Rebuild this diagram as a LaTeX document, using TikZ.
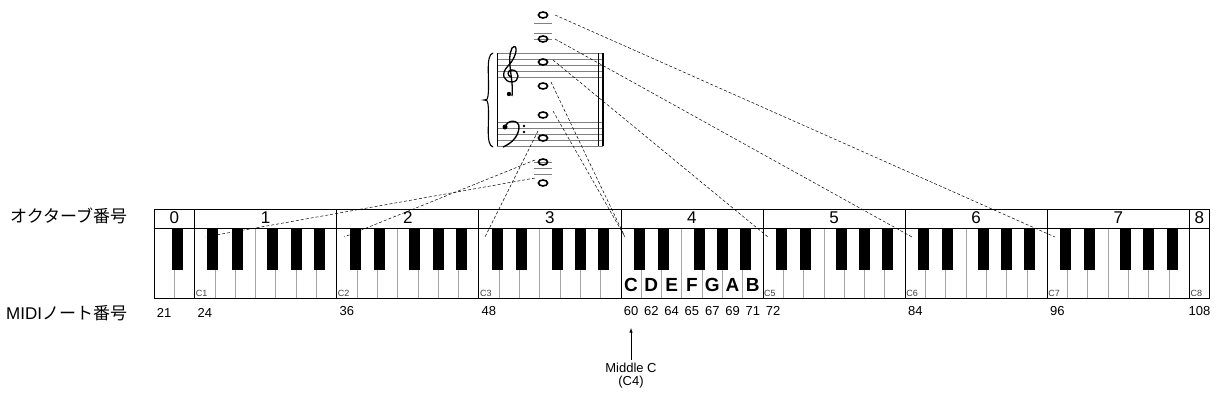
\documentclass[tikz,border=0pt]{standalone}
\usepackage{fontspec}
\setmainfont{Liberation Sans}
\newfontfamily\jp{Noto Sans CJK JP}
\begin{document}
\begin{tikzpicture}[x=1pt,y=-1pt,
  wk/.style={draw=gray!70,line width=0.8pt},
  bk/.style={fill=black},
  dl/.style={densely dashed,line width=0.5pt},
  lbl/.style={font=\fontsize{17}{17}\selectfont},
  num/.style={font=\fontsize{13}{13}\selectfont},
  cl/.style={font=\fontsize{9}{9}\selectfont,anchor=south west,inner sep=1pt},
  note/.style={line width=1.6pt},
  stl/.style={line width=0.6pt,gray}]
\useasboundingbox (0,0) rectangle (1226,413);
\def\w{20.3}
\def\xo{154}
% white key separators
\foreach \i in {1,...,51}{
  \draw[wk] ({\xo+\i*\w},228) -- ({\xo+\i*\w},298);
}
% black keys
\fill[bk] ({\xo+\w+3-5.5},228) rectangle ++(11,42);
\foreach \o in {0,...,6}{
  \pgfmathsetmacro\c{\xo+2*\w+\o*7*\w}
  \foreach \k/\d in {1/-2,2/2,4/-3,5/0,6/3}{
    \fill[bk] ({\c+\k*\w+\d-5.5},228) rectangle ++(11,42);
  }
}
% octave boundaries and header
\draw[line width=1pt] (\xo,209) rectangle ({\xo+52*\w},298);
\draw[line width=1pt] (\xo,228) -- ({\xo+52*\w},228);
\foreach \o in {0,...,7}{
  \draw[line width=0.8pt] ({\xo+2*\w+\o*7*\w},209) -- ({\xo+2*\w+\o*7*\w},298);
}
\node[lbl] (o0) at ({\xo+\w},218) {0};
\foreach \o in {1,...,7}{
  \node[lbl] (o\o) at ({\xo+2*\w+(\o-0.5)*7*\w},218) {\o};
}
\node[lbl] (o8) at ({\xo+51.5*\w},218) {8};
% C labels
\foreach \o in {1,2,3,5,6,7,8}{
  \node[cl,text=black!75] (c\o) at ({\xo+2*\w+(\o-1)*7*\w},298) {C\o};
}
% note letters
\foreach \l [count=\i from 0] in {C,D,E,F,G,A,B}{
  \node[font=\fontsize{19}{19}\selectfont\bfseries] (L\l) at ({\xo+(23.5+\i)*\w},285) {\l};
}
% MIDI numbers
\node[num] (m21) at ({\xo+0.5*\w},313) {21};
\node[num] (m24) at ({\xo+2.5*\w},313) {24};
\node[num] (m36) at ({\xo+9.5*\w},311) {36};
\node[num] (m48) at ({\xo+16.5*\w},311) {48};
\foreach \n [count=\i from 0] in {60,62,64,65,67,69,71,72}{
  \node[num] (mm\n) at ({\xo+(23.5+\i)*\w},311) {\n};
}
\node[num] (m84) at ({\xo+37.5*\w},311) {84};
\node[num] (m96) at ({\xo+44.5*\w},311) {96};
\node[num] (m108) at ({\xo+51.5*\w},311) {108};
% side labels
\node[lbl,anchor=west,inner sep=0] (oct) at (10,216) {\jp オクターブ番号};
\node[lbl,anchor=west,inner sep=0] (midi) at (6,313) {MIDI\jp ノート番号};
% middle C
\node[num,align=center] (mc) at (631,376) {Middle C\\(C4)};
\coordinate (mcA) at (631,328);
\draw[-latex,line width=0.6pt] (mc.north) -- (mcA);
% staff
\foreach \y in {53,59,65,71,77,122,128,134,140,146}{
  \draw[stl] (497,\y) -- (603,\y);
}
\draw[line width=0.6pt] (497,53) -- (497,146);
\draw[line width=0.6pt] (598,53) -- (598,146);
\draw[line width=2.2pt] (603,53) -- (603,146);
% brace
\draw[line width=1.1pt] (493,53) .. controls (485,55) and (490,80) .. (488,96)
  .. controls (487,100) .. (484,100) .. controls (487,100) .. (488,104)
  .. controls (490,120) and (485,145) .. (493,147);
% treble clef (drawn)
\draw[line width=1.3pt] (512,96)
  .. controls (514,80) and (506,60) .. (512,48)
  .. controls (518,42) and (518,56) .. (508,66)
  .. controls (500,74) and (504,82) .. (512,82)
  .. controls (520,82) and (520,70) .. (512,70)
  .. controls (507,70) and (507,76) .. (511,77);
\fill (509,94) circle (2.2);
% bass clef (drawn)
\draw[line width=1.4pt] (505,128)
  .. controls (506,119) and (520,119) .. (519,128)
  .. controls (518,138) and (510,144) .. (503,147);
\fill (505,127) circle (2.5);
\fill (524,126) circle (1.3);
\fill (524,132) circle (1.3);
% ledger lines
\foreach \y in {23,33,39,162,168,174}{
  \draw[stl] (534,\y) -- (552,\y);
}
% notes
\foreach \n/\y in {n1/15,n2/39,n3/62,n4/86,n5/115,n6/138,n7/162,n8/183}{
  \draw[note] (543,\y) ellipse (4.6 and 3);
  \coordinate (\n) at (543,\y);
}
\coordinate (k8) at (1055,237);
\coordinate (k7) at (912,237);
\coordinate (k6) at (768,237);
\coordinate (k5) at (625,237);
\coordinate (k3) at (485,237);
\coordinate (k2) at (344,237);
\coordinate (k1) at (205,237);
\draw[dl] ([xshift=12pt]n1) -- (k8);
\draw[dl] ([xshift=12pt]n2) -- (k7);
\draw[dl] ([xshift=10pt,yshift=2pt]n3) -- (k6);
\draw[dl] ([xshift=8pt,yshift=4pt]n4) -- (k5);
\draw[dl] ([xshift=10pt,yshift=4pt]n5) -- (k5);
\draw[dl] ([xshift=-5pt,yshift=7pt]n6) -- (k3);
\draw[dl] ([xshift=-8pt,yshift=2pt]n7) -- (k2);
\draw[dl] ([xshift=-8pt,yshift=5pt]n8) -- (k1);
\end{tikzpicture}
\end{document}
